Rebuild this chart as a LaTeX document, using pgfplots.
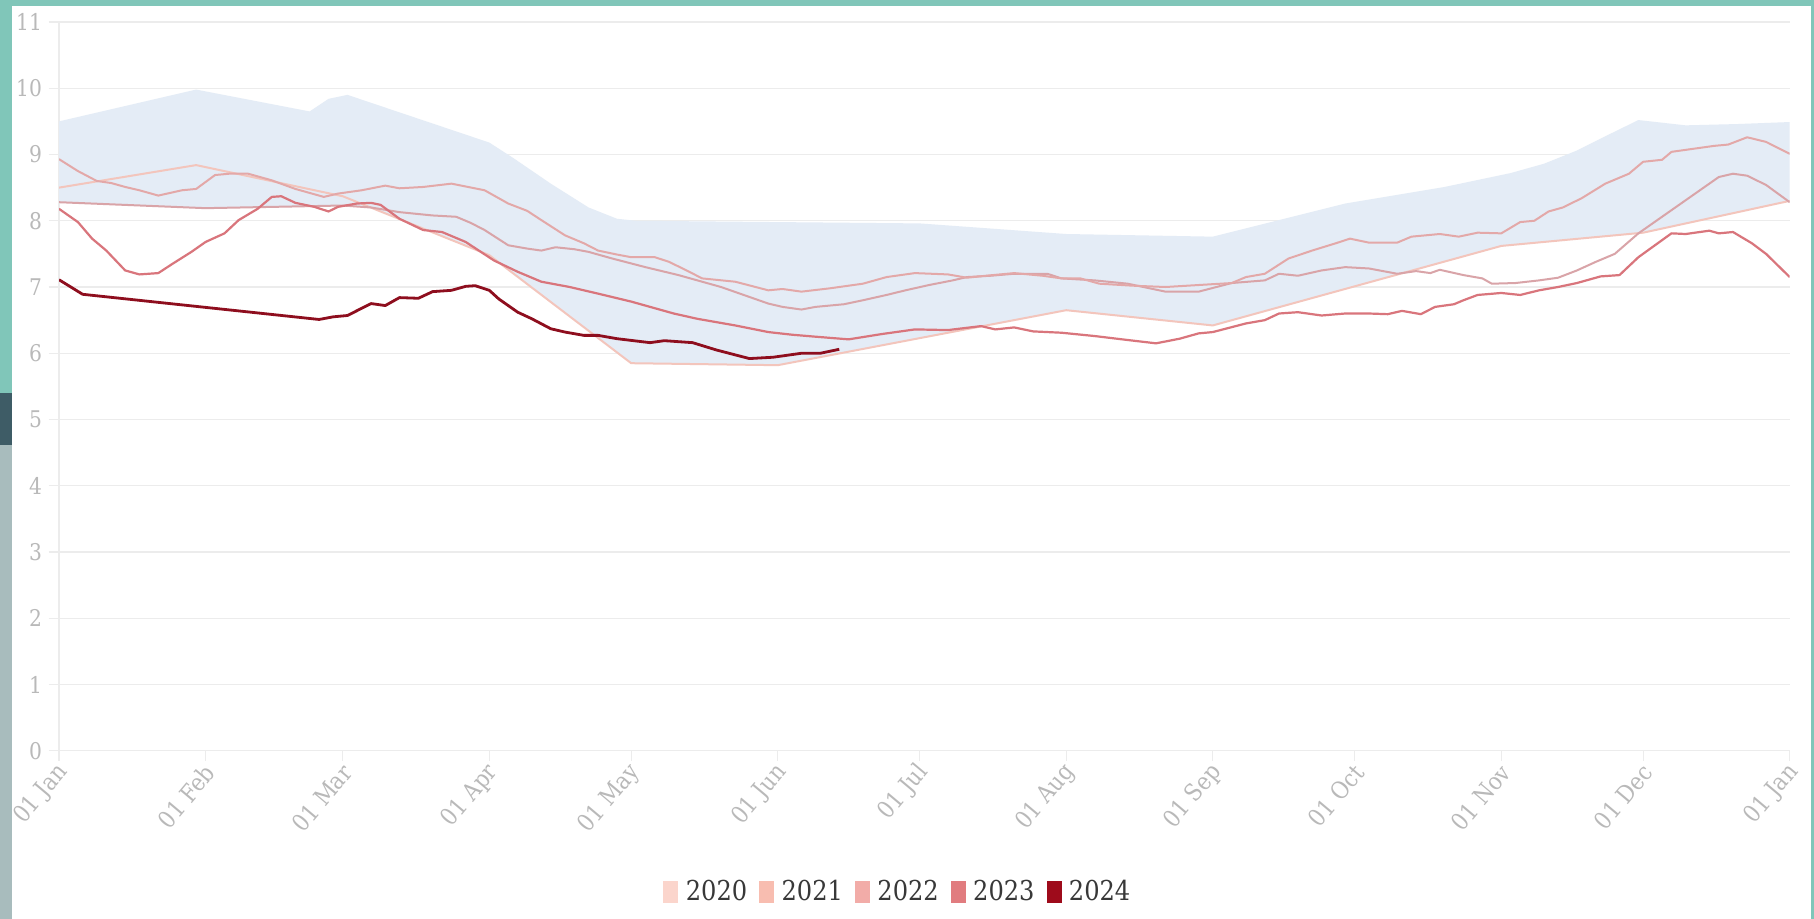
\documentclass[border=0pt]{standalone}
\usepackage{fontspec}
\setmainfont{DejaVu Serif}[FakeStretch=0.88]
\usepackage{pgfplots}
\pgfplotsset{compat=1.18}
\definecolor{bandblue}{HTML}{E4ECF6}
\definecolor{gridgray}{HTML}{ECECEC}
\definecolor{labelgray}{HTML}{B9B9B9}
\definecolor{legendtext}{HTML}{383838}
\definecolor{tealbg}{HTML}{80C6B9}
\definecolor{slatebg}{HTML}{3E5C66}
\definecolor{graybg}{HTML}{A8BCBD}
\definecolor{q2020}{HTML}{FBD5CC}
\definecolor{q2021}{HTML}{F8BDB0}
\definecolor{q2022}{HTML}{F2ACA8}
\definecolor{q2023}{HTML}{E17C7F}
\definecolor{q2024}{HTML}{9E0B1B}
\definecolor{l2020}{HTML}{F3C5BC}
\definecolor{l2021}{HTML}{E3A8A8}
\definecolor{l2022}{HTML}{D9A4A8}
\definecolor{l2023}{HTML}{D9757C}
\definecolor{l2024}{HTML}{8E0E1E}
\begin{document}
\begin{tikzpicture}
\fill[tealbg] (-29.5pt,-84.1pt) rectangle (877.5pt,375.4pt);
\fill[white] (-23.5pt,-84.1pt) rectangle (876pt,372.4pt);
\fill[slatebg] (-29.5pt,152.9pt) rectangle (-23.5pt,178.9pt);
\fill[graybg] (-29.5pt,-84.1pt) rectangle (-23.5pt,152.9pt);
\begin{axis}[
  at={(0pt,0pt)}, anchor=south west,
  scale only axis, width=865.35pt, height=364.4pt,
  xmin=0, xmax=366, ymin=0, ymax=11,
  axis x line*=bottom, axis y line*=left,
  axis line style={-, draw=gridgray, line width=0.6pt},
  xtick={0,31,60,91,121,152,182,213,244,274,305,335,366},
  xticklabels={01 Jan,01 Feb,01 Mar,01 Apr,01 May,01 Jun,01 Jul,01 Aug,01 Sep,01 Oct,01 Nov,01 Dec,01 Jan},
  ytick={0,1,...,11},
  ymajorgrids, grid style={draw=gridgray, line width=0.6pt},
  tick align=outside, major tick length=5pt,
  tick style={draw=gridgray, line width=0.6pt},
  /pgf/number format/assume math mode=true,
  every tick label/.append style={text=labelgray, font=\fontsize{11.5}{13}\selectfont},
  xticklabel style={rotate=50, anchor=east, xshift=2pt, yshift=-4pt, font=\fontsize{12}{14}\selectfont},
  legend style={at={(0.485,-0.194)}, anchor=center, draw=none, fill=none,
    nodes={text=legendtext, font=\fontsize{13.7}{16}\selectfont, inner sep=1.5pt},
    legend columns=5,
    /tikz/every even column/.append style={column sep=4.5pt}},
  legend image code/.code={\fill[#1, draw=none] (0pt,-5.5pt) rectangle (7.5pt,5.5pt); \path (9.5pt,0pt);},
]
% historical range band
\addplot[fill=bandblue, draw=none, forget plot] coordinates {
(0,9.50) (29,9.98) (53,9.65) (57,9.84) (61,9.90) (91,9.18) (96,8.95) (104,8.56) (112,8.20) (118,8.03) (122,8.00)
(152,7.98) (182,7.96) (213,7.80) (244,7.76) (258,8.01) (272,8.26) (293,8.51) (307,8.72) (314,8.86) (321,9.06)
(326,9.24) (334,9.52) (344,9.44) (355,9.46) (366,9.49)
(366,8.30) (335,7.82) (305,7.62) (244,6.42) (213,6.65) (152,5.82) (121,5.85) (91,7.48) (66,8.20) (60,8.24) (31,8.19) (0,8.28)
};
\addlegendimage{fill=q2020}\addlegendentry{2020}
\addlegendimage{fill=q2021}\addlegendentry{2021}
\addlegendimage{fill=q2022}\addlegendentry{2022}
\addlegendimage{fill=q2023}\addlegendentry{2023}
\addlegendimage{fill=q2024}\addlegendentry{2024}
% 2020
\addplot[l2020, line width=1pt, line join=round, forget plot] coordinates {
(0,8.50) (29,8.84) (60,8.37) (91,7.48) (121,5.85) (152,5.82) (213,6.65) (244,6.42) (305,7.62) (335,7.82) (366,8.30)
};
% 2022
\addplot[l2022, line width=1pt, line join=round, forget plot] coordinates {
(0,8.28) (31,8.19) (60,8.23) (66,8.20) (72,8.13) (79,8.08) (84,8.06) (87,7.97) (90,7.86) (95,7.63) (99,7.58) (102,7.55) (105,7.60)
(109,7.57) (112,7.53) (117,7.43) (124,7.30) (131,7.18) (136,7.08) (140,7.00) (146,6.85) (150,6.75) (153,6.70) (157,6.66)
(160,6.70) (163,6.72) (166,6.74) (170,6.80) (175,6.88) (179,6.95) (184,7.03) (189,7.10) (192,7.15) (197,7.17) (202,7.20)
(209,7.20) (212,7.13) (219,7.10) (226,7.05) (230,6.99) (234,6.93) (241,6.93) (248,7.06) (255,7.10) (258,7.20) (262,7.17)
(267,7.25) (272,7.30) (277,7.28) (283,7.20) (287,7.24) (290,7.21) (292,7.26) (297,7.18) (301,7.13) (303,7.05) (308,7.06)
(313,7.10) (317,7.14) (321,7.25) (325,7.38) (329,7.50) (334,7.81) (340,8.11) (346,8.41) (351,8.66) (354,8.71) (357,8.68)
(361,8.54) (366,8.28)
};
% 2021
\addplot[l2021, line width=1pt, line join=round, forget plot] coordinates {
(0,8.93) (4,8.75) (8,8.60) (11,8.57) (14,8.51) (17,8.46) (21,8.38) (26,8.46) (29,8.48) (33,8.69) (36,8.71) (40,8.71)
(45,8.61) (50,8.48) (56,8.36) (59,8.41) (64,8.46) (69,8.53) (72,8.49) (77,8.51) (83,8.56) (90,8.46) (95,8.26) (99,8.15)
(102,8.01) (107,7.78) (111,7.66) (114,7.55) (118,7.49) (121,7.45) (126,7.45) (129,7.38) (133,7.24) (136,7.13) (143,7.08)
(150,6.95) (153,6.97) (157,6.93) (163,6.98) (170,7.05) (175,7.15) (181,7.21) (188,7.19) (192,7.14) (196,7.17) (202,7.21)
(208,7.17) (212,7.13) (216,7.13) (220,7.05) (227,7.02) (234,7.00) (241,7.03) (248,7.06) (251,7.15) (255,7.20) (260,7.43)
(265,7.55) (270,7.66) (273,7.73) (277,7.67) (283,7.67) (286,7.76) (292,7.80) (296,7.76) (300,7.82) (305,7.81) (309,7.98)
(312,8.00) (315,8.14) (318,8.20) (322,8.34) (327,8.56) (332,8.71) (335,8.89) (339,8.92) (341,9.04) (346,9.09) (350,9.13)
(353,9.15) (357,9.26) (361,9.19) (366,9.01)
};
% 2023
\addplot[l2023, line width=1.1pt, line join=round, forget plot] coordinates {
(0,8.18) (4,7.98) (7,7.73) (10,7.55) (14,7.25) (17,7.19) (21,7.21) (24,7.35) (28,7.53) (31,7.68) (35,7.81) (38,8.01)
(42,8.18) (45,8.36) (47,8.37) (50,8.27) (54,8.21) (57,8.14) (59,8.21) (63,8.26) (66,8.27) (68,8.24) (72,8.03) (77,7.86)
(81,7.83) (86,7.68) (92,7.40) (97,7.23) (102,7.08) (108,7.00) (114,6.90) (121,6.78) (125,6.70) (130,6.60) (135,6.52)
(143,6.42) (150,6.32) (155,6.28) (160,6.25) (167,6.21) (174,6.29) (181,6.36) (188,6.35) (195,6.41) (198,6.36) (202,6.39)
(206,6.33) (212,6.31) (219,6.26) (226,6.20) (232,6.15) (237,6.22) (241,6.30) (244,6.32) (251,6.45) (255,6.50) (258,6.60)
(262,6.62) (267,6.57) (272,6.60) (277,6.60) (281,6.59) (284,6.64) (288,6.59) (291,6.70) (295,6.74) (297,6.80) (300,6.88)
(305,6.91) (309,6.88) (313,6.95) (317,7.00) (321,7.06) (326,7.16) (330,7.18) (334,7.45) (341,7.81) (344,7.80) (349,7.85)
(351,7.81) (354,7.83) (358,7.66) (361,7.50) (366,7.15)
};
% 2024
\addplot[l2024, line width=1.4pt, line join=round, forget plot] coordinates {
(0,7.11) (5,6.89) (55,6.51) (58,6.55) (61,6.57) (66,6.75) (69,6.72) (72,6.84) (76,6.83) (79,6.93) (83,6.95) (86,7.01)
(88,7.02) (91,6.95) (93,6.82) (97,6.62) (100,6.52) (104,6.37) (107,6.32) (111,6.27) (114,6.27) (118,6.22) (125,6.16)
(128,6.19) (134,6.16) (139,6.05) (146,5.92) (151,5.94) (157,6.00) (161,6.00) (165,6.06)
};
\end{axis}
\end{tikzpicture}
\end{document}
